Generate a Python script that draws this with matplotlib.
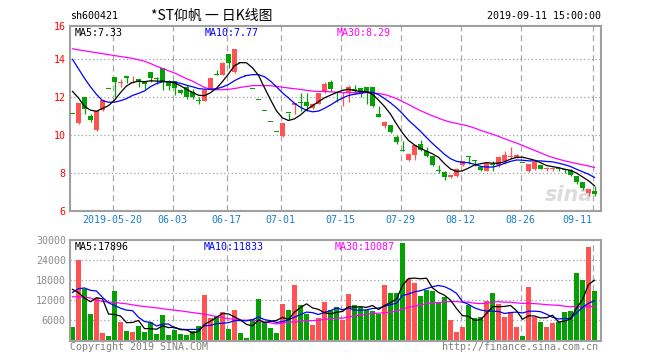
import matplotlib
matplotlib.use("Agg")
import matplotlib.pyplot as plt
import numpy as np
import pandas as pd

# ---------------- data ----------------
opens = [11.13, 10.66, 12.00, 11.00, 10.27, 11.32, 12.45, 13.06, 12.77, 13.13,
         12.76, 12.95, 12.87, 13.32, 12.95, 13.53, 12.80, 12.87, 12.40, 12.54,
         12.28, 11.82, 11.82, 12.36, 13.18, 13.15, 14.28, 13.32, 13.81, 13.12,
         12.46, 11.84, 11.25, 10.69, 10.15, 9.96, 11.16, 11.58, 11.76, 11.77,
         11.45, 11.67, 12.28, 12.78, 12.25, 12.20, 12.30, 12.44, 12.51, 12.56,
         12.56, 11.13, 10.46, 10.55, 9.88, 9.15, 8.71, 8.94, 9.53, 9.19,
         8.92, 8.10, 8.05, 7.82, 7.84, 8.42, 8.84, 8.62, 8.34, 8.13,
         8.45, 8.45, 8.62, 8.85, 8.83, 8.51, 8.10, 8.22, 8.45, 8.20,
         8.20, 8.20, 8.17, 8.14, 7.86, 7.51, 6.95, 7.07]
highs = [11.13, 11.70, 12.00, 11.14, 11.30, 11.90, 12.45, 13.06, 12.99, 13.13,
         13.13, 12.95, 12.87, 13.32, 13.06, 13.53, 12.92, 12.87, 12.45, 12.66,
         12.45, 12.01, 12.36, 13.01, 13.44, 13.84, 14.28, 14.54, 13.81, 13.12,
         12.46, 11.84, 11.25, 10.69, 10.15, 10.62, 11.16, 11.70, 12.22, 12.22,
         11.70, 12.25, 12.80, 12.89, 12.28, 12.30, 12.65, 12.65, 12.51, 12.56,
         12.56, 11.55, 10.76, 10.55, 9.99, 9.67, 9.05, 9.47, 9.76, 9.36,
         8.92, 8.45, 8.10, 7.92, 8.27, 8.65, 8.92, 8.71, 8.40, 8.57,
         8.62, 8.92, 9.18, 9.36, 8.99, 8.51, 8.48, 8.66, 8.45, 8.31,
         8.34, 8.33, 8.22, 8.21, 7.86, 7.51, 7.16, 7.30]
lows = [11.13, 10.57, 11.14, 10.71, 10.22, 11.27, 12.45, 12.01, 12.52, 12.75,
        12.75, 12.52, 12.43, 12.78, 12.71, 12.36, 12.40, 12.10, 12.17, 11.93,
        11.93, 11.67, 11.80, 12.36, 13.15, 13.15, 13.53, 13.27, 13.81, 13.12,
        12.46, 11.84, 11.25, 10.69, 10.15, 9.91, 10.78, 11.14, 11.30, 11.30,
        11.38, 11.67, 12.25, 12.31, 11.76, 11.55, 11.74, 12.17, 12.03, 11.63,
        11.50, 10.95, 10.37, 10.10, 9.53, 9.15, 8.63, 8.71, 9.15, 8.84,
        8.36, 8.01, 7.66, 7.76, 7.80, 8.35, 8.50, 8.40, 8.10, 8.10,
        8.13, 8.31, 8.48, 8.76, 8.81, 8.51, 8.05, 8.17, 8.20, 8.10,
        8.10, 8.09, 7.98, 7.86, 7.42, 7.13, 6.81, 6.81]
closes = [11.13, 11.70, 11.39, 10.79, 11.30, 11.87, 12.45, 12.83, 12.79, 13.04,
          12.80, 12.78, 12.69, 13.04, 12.95, 12.80, 12.57, 12.48, 12.22, 12.01,
          12.01, 11.82, 12.36, 13.01, 13.18, 13.79, 13.83, 14.54, 13.81, 13.12,
          12.46, 11.84, 11.25, 10.69, 10.15, 10.62, 11.16, 11.70, 11.72, 11.53,
          11.67, 12.22, 12.71, 12.43, 12.22, 12.24, 12.52, 12.35, 12.17, 12.21,
          11.55, 10.97, 10.67, 10.15, 9.62, 9.15, 9.03, 9.47, 9.24, 8.89,
          8.45, 8.10, 7.80, 7.85, 8.22, 8.62, 8.84, 8.62, 8.17, 8.52,
          8.45, 8.87, 8.97, 8.88, 8.97, 8.51, 8.48, 8.57, 8.22, 8.22,
          8.22, 8.20, 8.17, 7.91, 7.51, 7.21, 7.16, 6.88]
volumes = [4000, 23800, 15300, 7900, 12600, 2200, 1300, 14700, 5500, 2800,
           2500, 4300, 2500, 5500, 1900, 7600, 1600, 3200, 1800, 1600,
           2800, 4200, 13500, 6700, 7300, 8500, 3400, 9100, 2200, 700,
           6300, 12300, 5400, 3700, 2200, 10800, 9000, 16500, 10400, 7800,
           4700, 6800, 11400, 9000, 10000, 5950, 13890, 10610, 9820, 8930,
           8730, 7940, 16570, 14190, 13990, 29070, 18250, 17160, 13200, 14900,
           14600, 11500, 13000, 5950, 2380, 4070, 10610, 6750, 7040, 11600,
           14200, 10710, 7040, 8530, 3870, 1390, 15770, 6940, 5600, 4100,
           5100, 5600, 8450, 8700, 20100, 18000, 27900, 14780]

# moving-average values at the start of the window (read from the chart,
# they depend on trading days before the first visible candle)
ma5_lead = [12.31, 11.96, 11.52, 11.32]
ma10_lead = [14.00, 13.50, 13.00, 12.55, 12.15, 11.82, 11.74, 11.74, 11.82]
ma30_lead = [14.56, 14.50, 14.45, 14.40, 14.35, 14.30, 14.25, 14.20, 14.15, 14.10,
             14.05, 13.98, 13.90, 13.78, 13.64, 13.52, 13.40, 13.28, 13.13, 12.98,
             12.85, 12.68, 12.52, 12.42, 12.40, 12.40, 12.42, 12.46, 12.52]
vma5_lead = [15200, 14200, 12600, 11500]
vma10_lead = [14300, 15400, 15600, 14900, 14700, 12800, 11200, 10400, 9600]
vma30_lead = [13000, 12950, 12900, 12600, 12000, 11600, 11400, 11300, 11100, 10900,
              10600, 10300, 10100, 9900, 9700, 9450, 9200, 9000, 8800, 8550,
              8300, 8050, 7800, 7500, 7100, 6800, 6500, 6250, 6050]

tick_labels = ['2019-05-20', '06-03', '06-17', '07-01', '07-15', '07-29',
               '08-12', '08-26', '09-11']
tick_index = [7, 17, 26, 35, 45, 55, 65, 75, 87]

price_ticks = [6, 8, 10, 12, 14]
vol_ticks = [6000, 12000, 18000, 24000, 30000]

# ---------------- helpers ----------------
def moving(values, n, lead):
    s = pd.Series(values, dtype=float).rolling(n).mean().to_numpy()
    s[:len(lead)] = lead
    return s

ma5 = moving(closes, 5, ma5_lead)
ma10 = moving(closes, 10, ma10_lead)
ma30 = moving(closes, 30, ma30_lead)
vma5 = moving(volumes, 5, vma5_lead)
vma10 = moving(volumes, 10, vma10_lead)
vma30 = moving(volumes, 30, vma30_lead)

RED = '#ff5252'
GREEN = '#04a004'
O = np.array(opens); H = np.array(highs); L = np.array(lows); C = np.array(closes)
V = np.array(volumes)
n = len(C)
x = np.arange(n)
colors = [RED if c > o else GREEN for o, c in zip(O, C)]

W, Hpx = 660, 360
def fx(px):
    return px / W
def fy(py):
    return 1 - py / Hpx

MONO = 'DejaVu Sans Mono'
FS = 7.2

fig = plt.figure(figsize=(6.6, 3.6), dpi=100)
fig.patch.set_facecolor('white')

ax = fig.add_axes([fx(70), fy(211), (601 - 70) / W, (211 - 26) / Hpx])
axv = fig.add_axes([fx(70), fy(340.5), (601 - 70) / W, (340.5 - 239.5) / Hpx])

xlo, xhi = -0.42, 88.08
grid_x = [i - 0.33 for i in tick_index]

for a in (ax, axv):
    a.set_xlim(xlo, xhi)
    for s in a.spines.values():
        s.set_color('#a0a0a0')
        s.set_linewidth(1.5)
    for gx in grid_x:
        a.axvline(gx, color='#a8a8a8', lw=0.9, ls=(0, (5, 3)), zorder=0)
    a.tick_params(length=0)

# ---------- price panel ----------
ax.set_ylim(6, 15.76)
for t in price_ticks:
    ax.axhline(t, color='#a0a0a0', lw=0.9, ls=(0, (1, 2)), zorder=0)
ax.set_yticks(price_ticks)
ax.set_yticklabels([str(t) for t in price_ticks], color='#ff0000',
                   fontfamily=MONO, fontsize=FS)
ax.tick_params(axis='y', pad=3)
fig.text(fx(66), fy(27), '16', color='#ff0000', fontfamily=MONO,
         fontsize=FS, ha='right', va='center')

body_lo = np.minimum(O, C)
body_h = np.maximum(np.abs(C - O), 0.055)
ax.vlines(x, L, H, colors=colors, lw=0.9, zorder=2)
ax.bar(x, body_h, bottom=body_lo, width=0.8, color=colors, linewidth=0, zorder=3)

ax.plot(x, ma30, color='#ff00ff', lw=0.9, zorder=4)
ax.plot(x, ma10, color='#0000ff', lw=0.9, zorder=4)
ax.plot(x, ma5, color='#000000', lw=0.9, zorder=4)

ax.set_xticks(grid_x)
ax.set_xticklabels(tick_labels, color='#1a80c8', fontfamily=MONO, fontsize=FS)
ax.tick_params(axis='x', pad=3)
lbls = ax.get_xticklabels()
lbls[-1].set_horizontalalignment('right')
lbls[-1].set_x(grid_x[-1] + 0.4)

# watermark
ax.text(0.985, 0.035, 'sina', transform=ax.transAxes, ha='right', va='bottom',
        fontsize=15, fontstyle='italic', fontweight='bold', color='#dcdcdc',
        fontfamily='DejaVu Sans', zorder=1)

# ---------- volume panel ----------
axv.set_ylim(0, 30000)
for t in vol_ticks[:-1]:
    axv.axhline(t, color='#a0a0a0', lw=0.9, ls=(0, (1, 2)), zorder=0)
axv.set_yticks(vol_ticks)
axv.set_yticklabels([str(t) for t in vol_ticks], color='#8c8c8c',
                    fontfamily=MONO, fontsize=FS)
axv.tick_params(axis='y', pad=3)
axv.set_xticks([])
axv.bar(x, V, width=0.8, color=colors, linewidth=0, zorder=2)
axv.plot(x, vma30, color='#ff00ff', lw=0.9, zorder=4)
axv.plot(x, vma10, color='#0000ff', lw=0.9, zorder=4)
axv.plot(x, vma5, color='#000000', lw=0.9, zorder=4)

# ---------- texts ----------
fig.text(fx(70), fy(16), 'sh600421', fontfamily=MONO, fontsize=FS,
         ha='left', va='center', color='#000000')
fig.text(fx(212), fy(15.5), '*ST仰帆 一 日K线图',
         fontfamily=['Noto Sans CJK SC', 'DejaVu Sans'], fontsize=10,
         ha='center', va='center', color='#000000')
fig.text(fx(601), fy(16), '2019-09-11 15:00:00', fontfamily=MONO, fontsize=FS,
         ha='right', va='center', color='#000000')

fig.text(fx(75), fy(33.5), 'MA5:7.33', fontfamily=MONO, fontsize=FS,
         color='#000000', va='center')
fig.text(fx(205), fy(33.5), 'MA10:7.77', fontfamily=MONO, fontsize=FS,
         color='#0000ff', va='center')
fig.text(fx(337), fy(33.5), 'MA30:8.29', fontfamily=MONO, fontsize=FS,
         color='#ff00ff', va='center')

fig.text(fx(75), fy(246.5), 'MA5:17896', fontfamily=MONO, fontsize=FS,
         color='#000000', va='center')
fig.text(fx(204), fy(246.5), 'MA10:11833', fontfamily=MONO, fontsize=FS,
         color='#0000ff', va='center')
fig.text(fx(335), fy(246.5), 'MA30:10087', fontfamily=MONO, fontsize=FS,
         color='#ff00ff', va='center')

fig.text(fx(70), fy(347.5), 'Copyright 2019 SINA.COM', fontfamily=MONO,
         fontsize=FS, color='#808080', ha='left', va='center')
fig.text(fx(598), fy(347.5), 'http://finance.sina.com.cn', fontfamily=MONO,
         fontsize=FS, color='#808080', ha='right', va='center')

fig.savefig('out.png', dpi=100, facecolor='white')
